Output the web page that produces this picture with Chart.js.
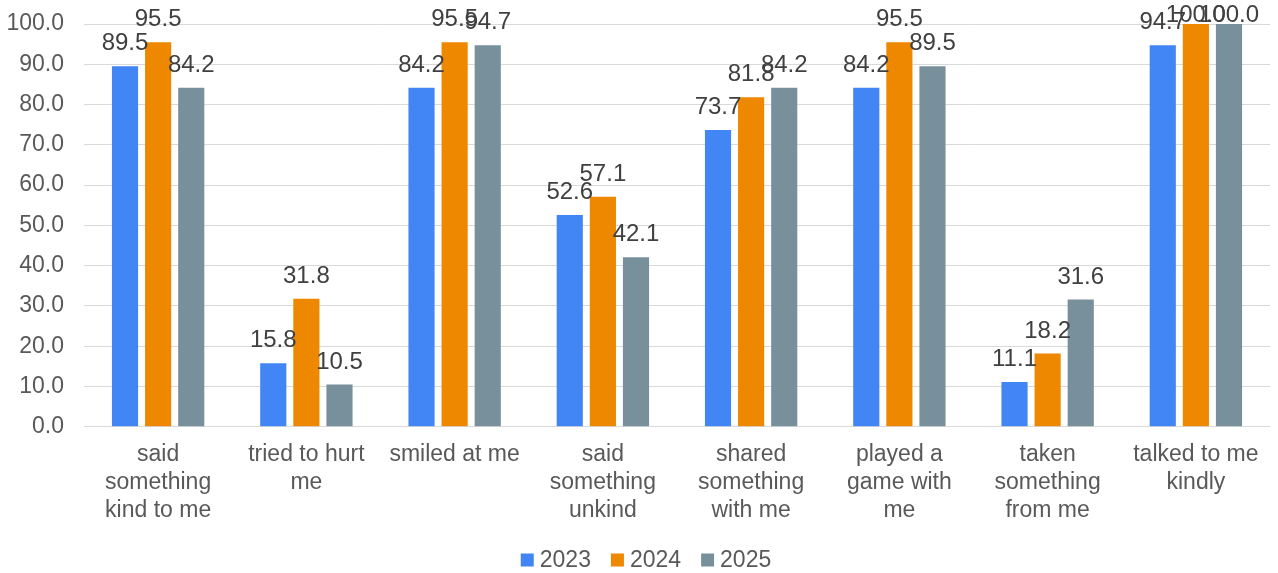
<!DOCTYPE html>
<html>
<head>
<meta charset="utf-8">
<script src="https://cdn.jsdelivr.net/npm/chart.js@4"></script>
<style>
  html, body { margin: 0; padding: 0; background: #fff; }
  #wrap { width: 1278px; height: 573px; position: relative; }
</style>
</head>
<body>
<div id="wrap"><canvas id="chart"></canvas></div>
<script>
// chart data
const categories = [
  ['said', 'something', 'kind to me'],
  ['tried to hurt', 'me'],
  ['smiled at me'],
  ['said', 'something', 'unkind'],
  ['shared', 'something', 'with me'],
  ['played a', 'game with', 'me'],
  ['taken', 'something', 'from me'],
  ['talked to me', 'kindly']
];
const seriesNames = ['2023', '2024', '2025'];
const values2023 = [89.5, 15.8, 84.2, 52.6, 73.7, 84.2, 11.1, 94.7];
const values2024 = [95.5, 31.8, 95.5, 57.1, 81.8, 95.5, 18.2, 100.0];
const values2025 = [84.2, 10.5, 94.7, 42.1, 84.2, 89.5, 31.6, 100.0];
const colors = ['#4285F4', '#EE8800', '#78909C'];

const FONT = '"Liberation Sans", Arial, sans-serif';

// draws the value above each bar (kept inside the canvas like excel does)
const valueLabels = {
  id: 'valueLabels',
  afterDatasetsDraw(chart) {
    const ctx = chart.ctx;
    ctx.save();
    ctx.font = '24px ' + FONT;
    ctx.fillStyle = '#404040';
    ctx.textAlign = 'center';
    ctx.textBaseline = 'alphabetic';
    chart.data.datasets.forEach((ds, i) => {
      chart.getDatasetMeta(i).data.forEach((bar, j) => {
        const y = Math.max(bar.y - 16, 22);
        ctx.fillText(ds.data[j].toFixed(1), bar.x, y);
      });
    });
    ctx.restore();
  }
};

// excel style legend: small square, tight gap to the text
const bottomLegend = {
  id: 'bottomLegend',
  afterDraw(chart) {
    const ctx = chart.ctx;
    const box = 13, gap = 6, itemGap = 20, y = 560;
    ctx.save();
    ctx.font = '23px ' + FONT;
    ctx.textBaseline = 'middle';
    const items = chart.data.datasets.map(ds => ({
      text: ds.label, color: ds.backgroundColor, w: box + gap + ctx.measureText(ds.label).width
    }));
    const total = items.reduce((s, it) => s + it.w, 0) + itemGap * (items.length - 1);
    let x = (chart.width - total) / 2 + 7;
    items.forEach(it => {
      ctx.fillStyle = it.color;
      ctx.fillRect(x, y - box / 2, box, box);
      ctx.fillStyle = '#595959';
      ctx.fillText(it.text, x + box + gap, y + 1);
      x += it.w + itemGap;
    });
    ctx.restore();
  }
};

new Chart(document.getElementById('chart'), {
  type: 'bar',
  data: {
    labels: categories,
    datasets: [values2023, values2024, values2025].map((vals, i) => ({
      label: seriesNames[i],
      data: vals,
      backgroundColor: colors[i],
      borderWidth: 0,
      categoryPercentage: 0.67,
      barPercentage: 0.79
    }))
  },
  options: {
    responsive: true,
    maintainAspectRatio: false,
    animation: false,
    layout: { padding: { top: 24, right: 8, left: 0, bottom: 42 } },
    plugins: {
      tooltip: { enabled: false },
      legend: { display: false }
    },
    scales: {
      x: {
        grid: { display: false },
        border: { display: false },
        ticks: {
          color: '#595959',
          font: { size: 23, family: FONT, lineHeight: 1.22 },
          padding: 6,
          maxRotation: 0,
          autoSkip: false
        }
      },
      y: {
        min: 0,
        max: 100,
        grid: { color: '#d9d9d9', lineWidth: 1, tickLength: 0 },
        border: { display: false },
        afterFit(scale) {
          scale.width = 84;
          scale.paddingTop = 0;
          scale.paddingBottom = 0;
        },
        ticks: {
          stepSize: 10,
          color: '#595959',
          font: { size: 23, family: FONT },
          padding: 20,
          callback: v => v.toFixed(1)
        }
      }
    }
  },
  plugins: [valueLabels, bottomLegend]
});
</script>
</body>
</html>
